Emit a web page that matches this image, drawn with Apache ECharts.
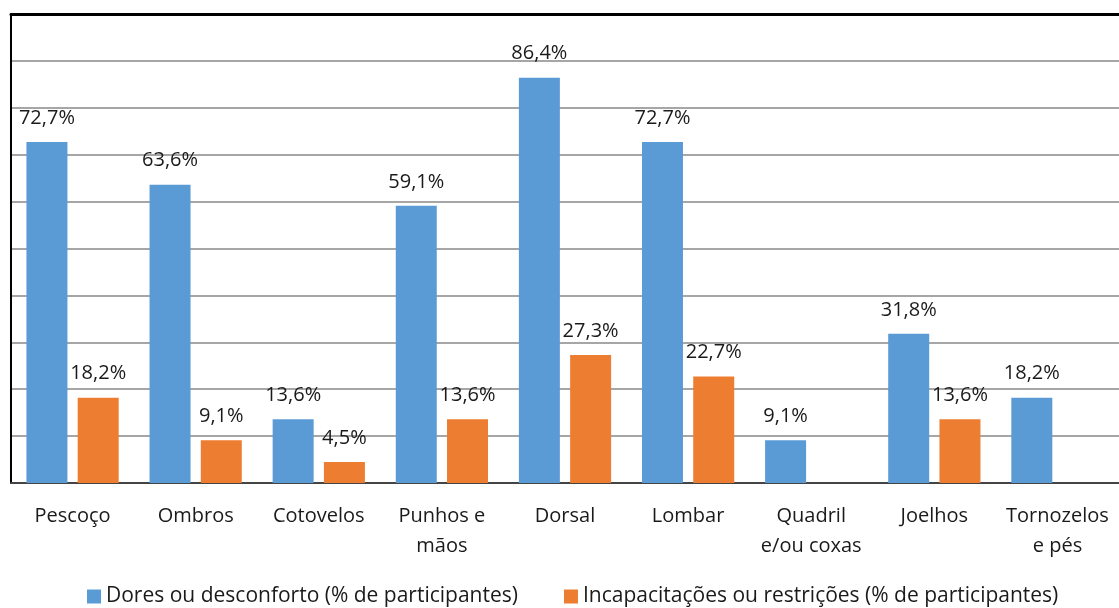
<!DOCTYPE html>
<html>
<head>
<meta charset="utf-8">
<script src="https://cdn.jsdelivr.net/npm/echarts@6/dist/echarts.min.js"></script>
<style>
  html, body { margin: 0; padding: 0; background: #fff; }
  #diagram { width: 1119px; height: 608px; }
</style>
</head>
<body>
<div id="diagram"></div>
<script>
var categories = ["Pescoço", "Ombros", "Cotovelos", "Punhos e\nmãos", "Dorsal", "Lombar", "Quadril\ne/ou coxas", "Joelhos", "Tornozelos\ne pés"];
var dores = [72.7, 63.6, 13.6, 59.1, 86.4, 72.7, 9.1, 31.8, 18.2];
var incapacitacoes = [18.2, 9.1, 4.5, 13.6, 27.3, 22.7, null, 13.6, null];
var seriesNames = ["Dores ou desconforto (% de participantes)", "Incapacitações ou restrições (% de participantes)"];

var fontFamily = "'Open Sans', sans-serif";

function pct(p) {
  return p.value.toFixed(1).replace(".", ",") + "%";
}

var myChart = echarts.init(document.getElementById("diagram"));
var option = {
  color: ["#5B9BD5", "#ED7D31"],
  textStyle: { fontFamily: fontFamily },
  legend: {
    data: seriesNames,
    bottom: -4,
    left: 82,
    itemWidth: 14,
    itemHeight: 14,
    itemGap: 46,
    icon: "rect",
    textStyle: { fontSize: 21, color: "#1a1a1a", fontFamily: fontFamily }
  },
  grid: { left: 11, top: 14, width: 1116, height: 469 },
  xAxis: [
    {
      type: "category",
      data: categories,
      axisLine: { lineStyle: { color: "#444", width: 2 } },
      axisTick: { show: false },
      axisLabel: { interval: 0, fontSize: 20, color: "#1a1a1a", margin: 18, lineHeight: 30, fontFamily: fontFamily }
    },
    {
      type: "category",
      position: "top",
      data: categories,
      axisLine: { lineStyle: { color: "#000", width: 3 } },
      axisTick: { show: false },
      axisLabel: { show: false }
    }
  ],
  yAxis: {
    type: "value",
    min: 0,
    max: 100,
    interval: 10,
    axisLine: { show: true, lineStyle: { color: "#000", width: 2 } },
    axisTick: { show: false },
    axisLabel: { show: false },
    splitLine: { lineStyle: { color: "#a6a6a6", width: 2 } }
  },
  series: [
    {
      name: seriesNames[0],
      type: "bar",
      data: dores,
      barWidth: 41,
      barGap: "25%",
      label: { show: true, position: "top", distance: 14, fontSize: 20, color: "#1a1a1a", formatter: pct }
    },
    {
      name: seriesNames[1],
      type: "bar",
      data: incapacitacoes,
      barWidth: 41,
      barGap: "25%",
      label: { show: true, position: "top", distance: 14, fontSize: 20, color: "#1a1a1a", formatter: pct }
    }
  ]
};
myChart.setOption(option);
</script>
</body>
</html>
